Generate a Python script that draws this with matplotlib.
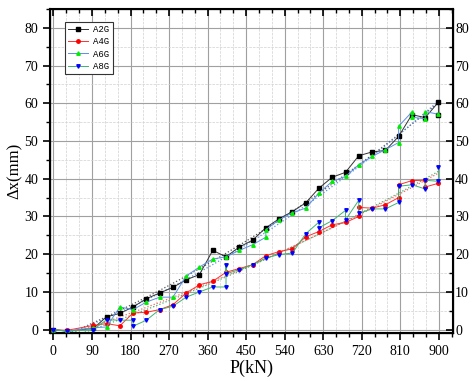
import numpy as np
import matplotlib
matplotlib.use('Agg')
import matplotlib.pyplot as plt
from matplotlib.ticker import MultipleLocator

# load steps (kN); some steps have two readings
a2g_x = [0, 31, 93, 124, 155, 186, 217, 248, 279, 310, 341, 372, 403, 434, 465,
         496, 527, 558, 589, 620, 651, 682, 713, 744, 775, 806, 837, 868, 899, 899]
a2g_y = [0, -0.4, 0.3, 3.4, 4.3, 6.0, 8.2, 9.7, 11.2, 13.2, 14.6, 21.0, 19.3, 21.9, 23.7,
         27.0, 29.4, 31.3, 33.6, 37.5, 40.4, 41.7, 46.1, 47.1, 47.5, 51.2, 57.0, 56.2, 60.3, 57.0]

a4g_x = [0, 31, 93, 124, 155, 186, 217, 248, 279, 310, 341, 372, 403, 434, 465,
         496, 527, 558, 589, 620, 651, 682, 713, 713, 744, 775, 806, 806, 837, 868, 868, 899]
a4g_y = [0, -0.2, 1.1, 1.6, 1.0, 4.4, 4.6, 5.3, 6.6, 9.7, 11.9, 12.8, 15.2, 16.2, 17.2,
         19.6, 20.7, 21.4, 24.6, 26.0, 27.8, 28.4, 30.0, 32.4, 32.2, 33.1, 35.0, 38.4, 39.5, 39.6, 37.8, 38.8]

a6g_x = [0, 31, 93, 124, 155, 186, 217, 248, 279, 310, 341, 372, 403, 434, 465,
         496, 496, 527, 558, 589, 620, 651, 682, 713, 744, 775, 806, 806, 837, 837, 868, 868, 899]
a6g_y = [0, -0.4, 0.5, 0.7, 6.0, 5.3, 7.3, 8.6, 8.6, 14.2, 16.6, 18.7, 19.3, 21.0, 22.5,
         24.5, 26.5, 29.1, 31.0, 32.2, 36.2, 39.3, 40.6, 43.7, 45.9, 47.7, 49.6, 53.9, 57.7, 56.3, 55.9, 57.8, 57.1]

a8g_x = [0, 31, 93, 124, 155, 186, 186, 217, 248, 279, 310, 341, 372, 403, 403, 403, 434, 465,
         496, 527, 558, 589, 620, 620, 651, 682, 682, 713, 713, 744, 775, 806, 806, 837, 868, 868, 899, 899]
a8g_y = [0, -0.4, 0.0, 2.6, 2.5, 2.5, 0.9, 2.5, 5.3, 6.2, 8.6, 10.0, 11.3, 11.3, 17.0, 14.8, 15.9, 17.2,
         19.0, 19.9, 20.3, 25.4, 28.5, 27.0, 28.9, 31.6, 29.1, 34.3, 30.8, 32.0, 32.0, 33.7, 38.0, 38.4, 37.3, 39.6, 39.3, 43.0]

series = [
    ('A2G', a2g_x, a2g_y, '#333333', 'k', 's', '#555555'),
    ('A4G', a4g_x, a4g_y, '#ff3030', 'r', 'o', '#ff6060'),
    ('A6G', a6g_x, a6g_y, '#5a8fe6', '#00ee00', '^', '#5a8fe6'),
    ('A8G', a8g_x, a8g_y, '#3cb371', '#0000ff', 'v', '#3cb371'),
]

xlim = (-8, 933)
ylim = (-0.9, 85)
font = 'Liberation Serif'

fig = plt.figure(figsize=(4.72, 3.81), dpi=100)
ax = fig.add_axes([50 / 472, 1 - 333 / 381, 403 / 472, 324 / 381])

for name, xs, ys, lc, mc, mk, fc in series:
    ax.plot(xs, ys, color=lc, lw=0.7, marker=mk, ms=2.5, mfc=mc, mec=mc, label=name, zorder=3)
    # dotted trend line
    coef = np.polyfit(xs, ys, 2)
    xf = np.linspace(0, 899, 100)
    ax.plot(xf, np.polyval(coef, xf), color=fc, lw=0.9, ls=':', zorder=2)

ax.set_xlim(*xlim)
ax.set_ylim(*ylim)
ax.xaxis.set_major_locator(MultipleLocator(90))
ax.xaxis.set_minor_locator(MultipleLocator(30))
ax.yaxis.set_major_locator(MultipleLocator(10))
ax.yaxis.set_minor_locator(MultipleLocator(5))

ax.grid(True, which='major', color='#a0a0a0', lw=0.8)
ax.grid(True, which='minor', color='#d0d0d0', lw=0.5, ls='--')
ax.set_axisbelow(True)

for s in ax.spines.values():
    s.set_linewidth(1.5)

ax.tick_params(which='both', direction='out', top=False, right=False)
ax.tick_params(which='major', length=5, width=1.2, labelsize=10)
ax.tick_params(which='minor', length=3, width=1.0)
for lab in ax.get_xticklabels() + ax.get_yticklabels():
    lab.set_fontfamily(font)

# inward ticks on top, inward ticks with labels on the right
tx = ax.twiny()
tx.set_xlim(*xlim)
tx.xaxis.set_major_locator(MultipleLocator(90))
tx.xaxis.set_minor_locator(MultipleLocator(30))
tx.tick_params(which='both', direction='in', labeltop=False)
tx.tick_params(which='major', length=5, width=1.2)
tx.tick_params(which='minor', length=3, width=1.0)

ty = ax.twinx()
ty.set_ylim(*ylim)
ty.yaxis.set_major_locator(MultipleLocator(10))
ty.yaxis.set_minor_locator(MultipleLocator(5))
ty.tick_params(which='both', direction='in', pad=1.5, labelsize=10)
ty.tick_params(which='major', length=5, width=1.2)
ty.tick_params(which='minor', length=3, width=1.0)
for lab in ty.get_yticklabels():
    lab.set_fontfamily(font)

ax.set_xlabel('P(kN)', fontfamily=font, fontsize=13, labelpad=1)
ax.set_ylabel('Δx(mm)', fontfamily=font, fontsize=12, labelpad=1)

leg = ax.legend(loc='upper left', bbox_to_anchor=(0.025, 0.975), prop={'family': 'Liberation Mono', 'size': 6.5},
                fancybox=False, edgecolor='#333333', framealpha=1, handlelength=2.2, borderpad=0.4,
                labelspacing=0.35, handletextpad=0.6)
leg.get_frame().set_linewidth(0.8)
leg.set_zorder(10)

fig.savefig('out.png', dpi=100)
